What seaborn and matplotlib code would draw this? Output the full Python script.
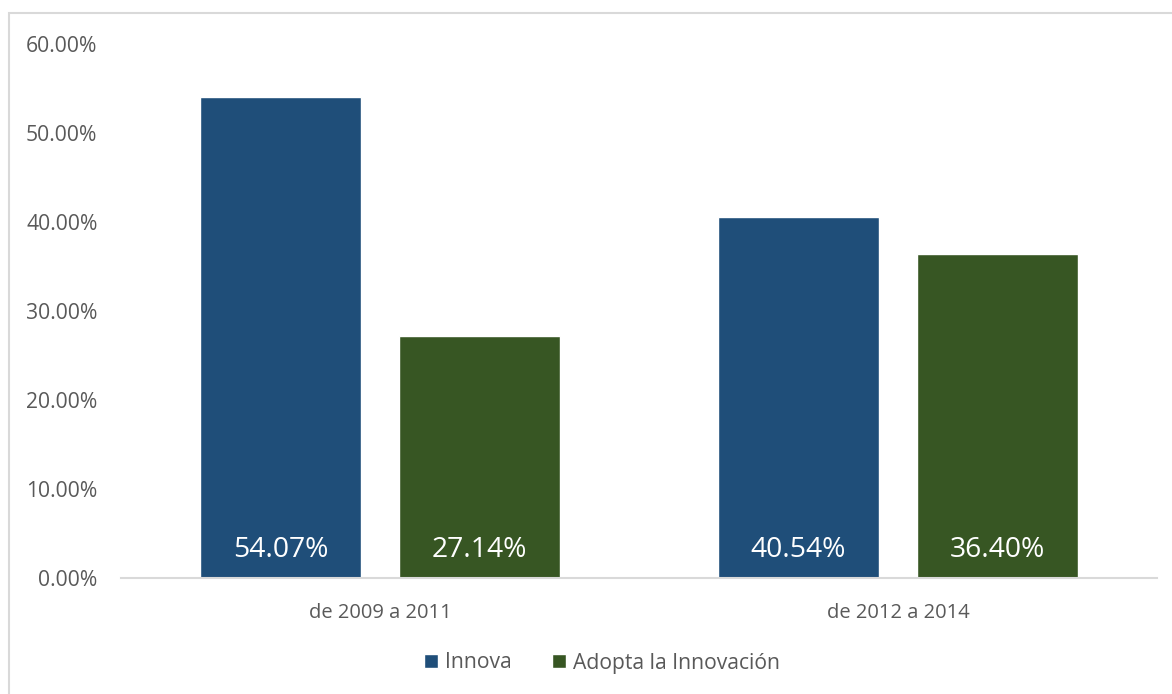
import matplotlib
matplotlib.use("Agg")
import matplotlib.pyplot as plt
import seaborn as sns
import pandas as pd
from matplotlib.patches import Rectangle

# Data
periods = ["de 2009 a 2011", "de 2012 a 2014"]
series = ["Innova", "Adopta la Innovación"]
innova = [0.5407, 0.4054]
adopta = [0.2714, 0.3640]
yticks = [0.0, 0.1, 0.2, 0.3, 0.4, 0.5, 0.6]

colors = ["#1F4E79", "#375623"]
text_gray = "#595959"

df = pd.DataFrame({
    "periodo": periods * 2,
    "serie": [series[0]] * 2 + [series[1]] * 2,
    "valor": innova + adopta,
})

sns.set_theme(style="white")
plt.rcParams["font.family"] = ["Open Sans", "DejaVu Sans"]

fig = plt.figure(figsize=(11.72, 6.94), dpi=100)
ax = fig.add_axes([121 / 1172, 1 - 578 / 694, (1157 - 121) / 1172, (578 - 44) / 694])

sns.barplot(data=df, x="periodo", y="valor", hue="serie", order=periods,
            hue_order=series, palette=colors, width=0.768, gap=0.195,
            saturation=1, ax=ax, legend=True)

ax.set_xlim(-0.5, 1.5)
ax.set_ylim(0, 0.6)
ax.set_yticks(yticks)
ax.set_yticklabels([f"{v * 100:.2f}%" for v in yticks], color=text_gray, fontsize=15.2)
ax.tick_params(axis="y", length=0, pad=17)
ax.tick_params(axis="x", length=0, pad=18, labelsize=14.5, labelcolor=text_gray)
ax.set_xlabel("")
ax.set_ylabel("")
for side in ["top", "right", "left"]:
    ax.spines[side].set_visible(False)
ax.spines["bottom"].set_color("#D9D9D9")
ax.spines["bottom"].set_linewidth(1.5)
ax.grid(False)

# Value labels near the base of each bar
for container in ax.containers:
    for bar in container:
        h = bar.get_height()
        ax.text(bar.get_x() + bar.get_width() / 2, 0.031, f"{h * 100:.2f}%",
                ha="center", va="center", color="white", fontsize=20.3)

# Legend below the plot
handles, labels = ax.get_legend_handles_labels()
ax.get_legend().remove()
fig.legend(handles, labels, loc="center", bbox_to_anchor=(602 / 1172, 1 - 663 / 694),
           ncol=2, frameon=False, fontsize=15.2, handlelength=0.65, handleheight=0.65,
           handletextpad=0.35, columnspacing=1.9, labelcolor=text_gray)

# Chart frame
fig.patches.append(Rectangle((8.5 / 1172, -0.1), 1.2, 1 - 13.5 / 694 + 0.1,
                             transform=fig.transFigure, fill=False,
                             edgecolor="#D9D9D9", linewidth=1.5))

fig.savefig("out.png", dpi=100, facecolor="white")
